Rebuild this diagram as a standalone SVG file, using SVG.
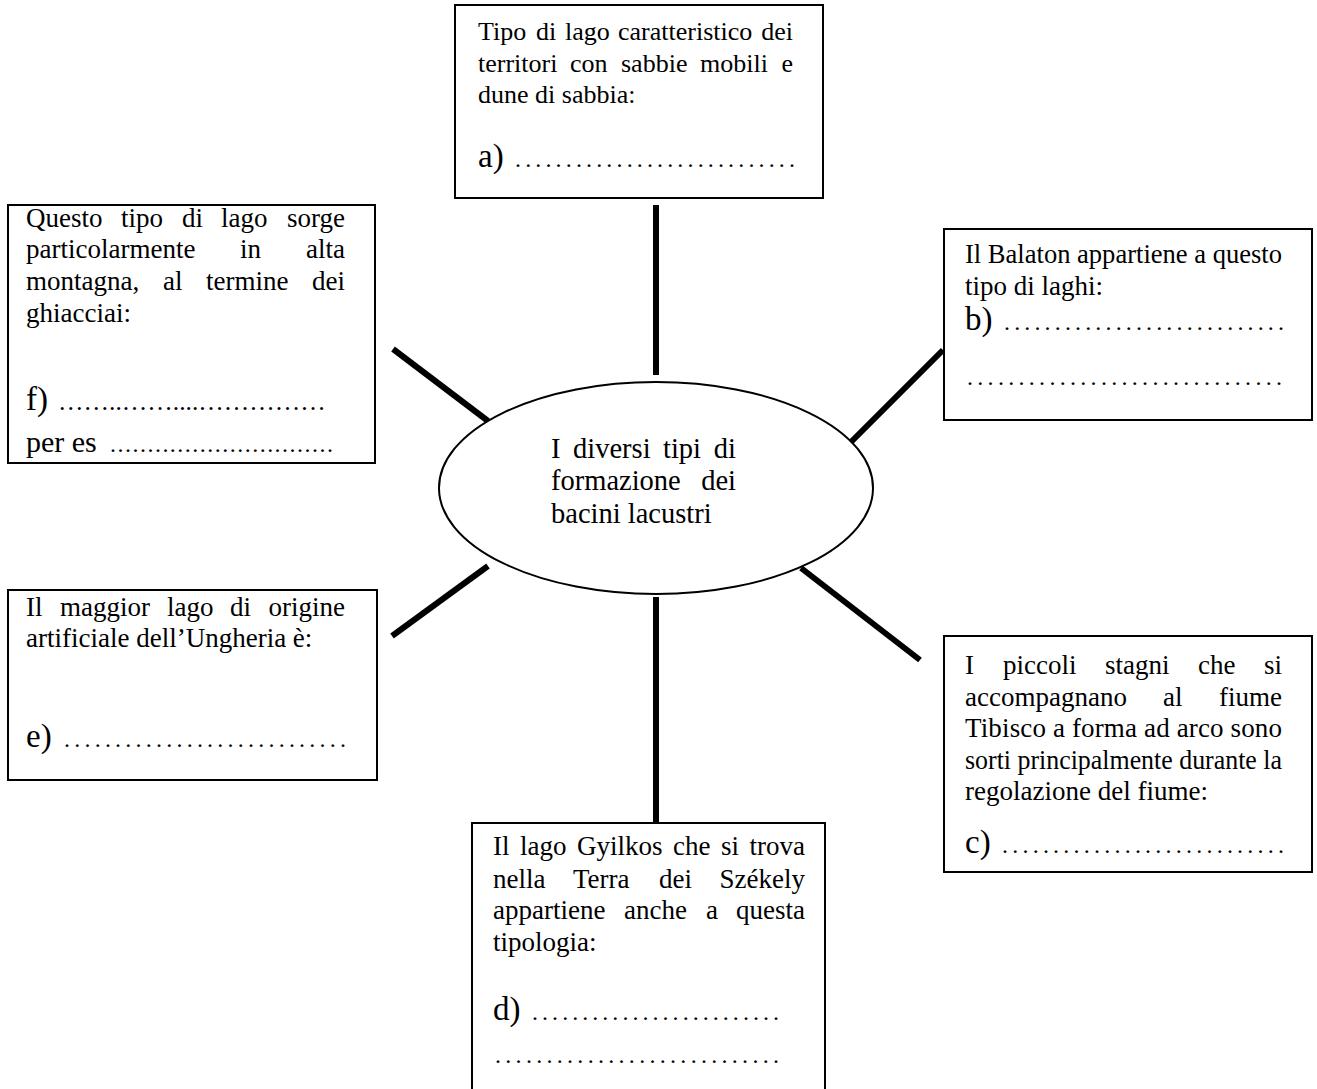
<svg xmlns="http://www.w3.org/2000/svg" width="1317" height="1089" viewBox="0 0 1317 1089">
<style>
.t{font-family:"Liberation Serif","Times New Roman",serif;font-size:27px;fill:#000}
.s26{font-size:26px}
.c{font-size:28.5px}
.l{font-size:33px}
.dt{font-size:24px}
.e{text-anchor:end}
.box{fill:#fff;stroke:#000;stroke-width:2}
.conn line{stroke:#000;stroke-width:6}
</style>
<rect width="1317" height="1089" fill="#fff"/>
<g id="connectors" class="conn">
<line x1="656" y1="205" x2="656" y2="375"/>
<line x1="393" y1="349" x2="488" y2="421"/>
<line x1="943" y1="350" x2="850" y2="443"/>
<line x1="392" y1="636" x2="488" y2="566"/>
<line x1="801" y1="568" x2="920" y2="660"/>
<line x1="656" y1="597" x2="656" y2="828"/>
</g>
<g id="center">
<ellipse cx="656" cy="488" rx="217" ry="106" fill="#fff" stroke="#000" stroke-width="2"/>
<text class="t c" y="458"><tspan x="551">I</tspan><tspan x="573">diversi</tspan><tspan x="663">tipi</tspan><tspan x="736" class="e">di</tspan></text>
<text class="t c" y="490"><tspan x="551">formazione</tspan><tspan x="736" class="e">dei</tspan></text>
<text class="t c" x="551" y="523">bacini lacustri</text>
</g>
<g id="node-a">
<rect class="box" x="455" y="5" width="368" height="193"/>
<text class="t s26" y="40"><tspan x="478">Tipo</tspan><tspan x="536">di</tspan><tspan x="565">lago</tspan><tspan x="618">caratteristico</tspan><tspan x="793" class="e">dei</tspan></text>
<text class="t s26" y="72"><tspan x="478">territori</tspan><tspan x="570">con</tspan><tspan x="621">sabbie</tspan><tspan x="700">mobili</tspan><tspan x="793" class="e">e</tspan></text>
<text class="t s26" x="478" y="103">dune di sabbia:</text>
<text class="t l" x="478" y="167">a)</text>
<text class="t dt" x="515" y="167" textLength="280" lengthAdjust="spacing">............................</text>
</g>
<g id="node-f">
<rect class="box" x="8" y="205" width="367" height="258"/>
<text class="t" y="227"><tspan x="26">Questo</tspan><tspan x="121">tipo</tspan><tspan x="182">di</tspan><tspan x="221">lago</tspan><tspan x="345" class="e">sorge</tspan></text>
<text class="t" y="258"><tspan x="26">particolarmente</tspan><tspan x="240">in</tspan><tspan x="345" class="e">alta</tspan></text>
<text class="t" y="290"><tspan x="26">montagna,</tspan><tspan x="163">al</tspan><tspan x="206">termine</tspan><tspan x="345" class="e">dei</tspan></text>
<text class="t" x="26" y="322">ghiacciai:</text>
<text class="t l" x="26" y="410">f)</text>
<text class="t" x="58" y="410" style="font-size:25.5px">……..……....……………</text>
<text class="t" x="26" y="452" style="font-size:30px">per es</text>
<text class="t dt" x="110" y="452" textLength="223" lengthAdjust="spacing">..............................</text>
</g>
<g id="node-b">
<rect class="box" x="944" y="229" width="368" height="191"/>
<text class="t" x="965" y="263" textLength="317" lengthAdjust="spacingAndGlyphs">Il Balaton appartiene a questo</text>
<text class="t" x="965" y="295">tipo di laghi:</text>
<text class="t l" x="965" y="330">b)</text>
<text class="t dt" x="1004" y="330" textLength="280" lengthAdjust="spacing">............................</text>
<text class="t dt" x="967" y="385" textLength="315" lengthAdjust="spacing">...............................</text>
</g>
<g id="node-e">
<rect class="box" x="8" y="590" width="369" height="190"/>
<text class="t" y="616"><tspan x="26">Il</tspan><tspan x="60">maggior</tspan><tspan x="167">lago</tspan><tspan x="230">di</tspan><tspan x="345" class="e">origine</tspan></text>
<text class="t" x="26" y="647">artificiale dell’Ungheria è:</text>
<text class="t l" x="26" y="747">e)</text>
<text class="t dt" x="64" y="747" textLength="282" lengthAdjust="spacing">............................</text>
</g>
<g id="node-c">
<rect class="box" x="944" y="636" width="368" height="236"/>
<text class="t" y="674"><tspan x="965">I</tspan><tspan x="1003">piccoli</tspan><tspan x="1105">stagni</tspan><tspan x="1198">che</tspan><tspan x="1282" class="e">si</tspan></text>
<text class="t" y="706"><tspan x="965">accompagnano</tspan><tspan x="1163">al</tspan><tspan x="1282" class="e">fiume</tspan></text>
<text class="t" x="965" y="737" textLength="317" lengthAdjust="spacing">Tibisco a forma ad arco sono</text>
<text class="t" x="965" y="769" textLength="317" lengthAdjust="spacingAndGlyphs">sorti principalmente durante la</text>
<text class="t" x="965" y="800">regolazione del fiume:</text>
<text class="t l" x="965" y="853">c)</text>
<text class="t dt" x="1002" y="853" textLength="282" lengthAdjust="spacing">............................</text>
</g>
<g id="node-d">
<rect class="box" x="472" y="823" width="353" height="280"/>
<text class="t" y="855"><tspan x="493">Il</tspan><tspan x="520">lago</tspan><tspan x="577">Gyilkos</tspan><tspan x="673">che</tspan><tspan x="721">si</tspan><tspan x="805" class="e">trova</tspan></text>
<text class="t" y="888"><tspan x="493">nella</tspan><tspan x="573">Terra</tspan><tspan x="659">dei</tspan><tspan x="805" class="e">Székely</tspan></text>
<text class="t" y="919"><tspan x="493">appartiene</tspan><tspan x="624">anche</tspan><tspan x="706">a</tspan><tspan x="805" class="e">questa</tspan></text>
<text class="t" x="493" y="951">tipologia:</text>
<text class="t l" x="493" y="1020">d)</text>
<text class="t dt" x="532" y="1020" textLength="247" lengthAdjust="spacing">.........................</text>
<text class="t dt" x="495" y="1063" textLength="284" lengthAdjust="spacing">............................</text>
</g>
</svg>
